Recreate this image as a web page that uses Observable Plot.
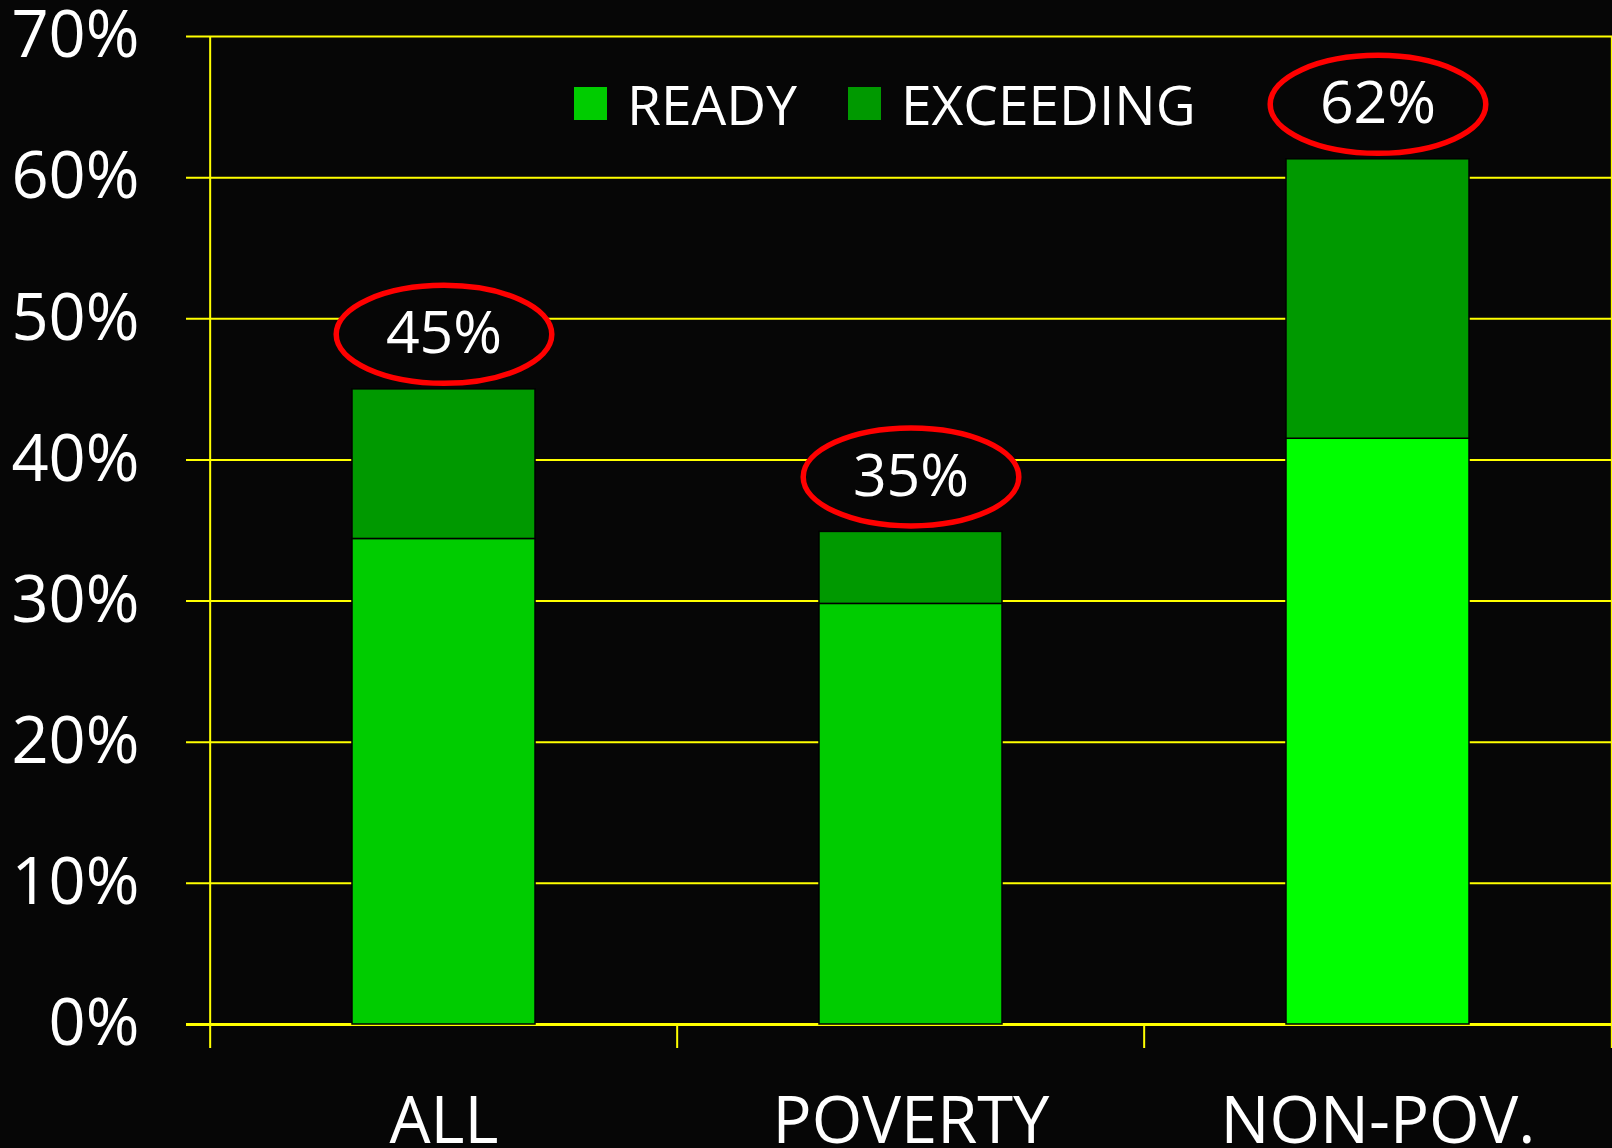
<!DOCTYPE html>
<html>
<head>
<meta charset="utf-8">
<script src="https://cdn.jsdelivr.net/npm/d3@7"></script>
<script src="https://cdn.jsdelivr.net/npm/@observablehq/plot@0.6"></script>
<style>
  html, body { margin: 0; padding: 0; background: #060606; }
  #wrap { position: relative; width: 1612px; height: 1148px; overflow: hidden; font-family: "Open Sans", sans-serif; }
  .leg { position: absolute; display: flex; align-items: center; color: #fff; font-size: 55px; line-height: 1; }
  .sw { width: 33px; height: 33px; margin-right: 20px; }
</style>
</head>
<body>
<div id="wrap"></div>
<script>
// ---- data ----
const categories = ["ALL", "POVERTY", "NON-POV."];
const ready = [34.4, 29.8, 41.5];
const exceeding = [10.6, 5.1, 19.8];
const totalLabels = ["45%", "35%", "62%"];
const readyColors = ["#00cc00", "#00cc00", "#00ff00"];
const exceedingColor = "#009900";
const seriesNames = ["READY", "EXCEEDING"];
const legendColors = ["#00cc00", "#009900"];
const yTicks = [0, 10, 20, 30, 40, 50, 60, 70];

// ---- layout ----
const W = 1612, H = 1148, ML = 209, MR = 0, MT = 36, MB = 124;
const bw = (W - ML - MR) / categories.length;
const BG = "#060606";
const YEL = "#ffff00";
const FONT = "Open Sans, sans-serif";

const rows = [];
categories.forEach((c, i) => {
  rows.push({cat: c, series: seriesNames[0], value: ready[i], fill: readyColors[i]});
  rows.push({cat: c, series: seriesNames[1], value: exceeding[i], fill: exceedingColor});
});
const totals = categories.map((c, i) => ({cat: c, total: ready[i] + exceeding[i], label: totalLabels[i]}));

const ellipse = {
  draw(ctx, size) {
    const r = Math.sqrt(size / Math.PI);
    const rx = r * 2.2, ry = r, k = 0.5522847;
    ctx.moveTo(rx, 0);
    ctx.bezierCurveTo(rx, ry * k, rx * k, ry, 0, ry);
    ctx.bezierCurveTo(-rx * k, ry, -rx, ry * k, -rx, 0);
    ctx.bezierCurveTo(-rx, -ry * k, -rx * k, -ry, 0, -ry);
    ctx.bezierCurveTo(rx * k, -ry, rx, -ry * k, rx, 0);
    ctx.closePath();
  }
};

const yMax = d3.max(yTicks);

const chart = Plot.plot({
  width: W, height: H,
  marginLeft: ML, marginRight: MR, marginTop: MT, marginBottom: MB,
  style: {background: BG, color: "#ffffff", fontFamily: FONT, overflow: "visible"},
  x: {type: "band", domain: categories, padding: 0},
  y: {domain: [0, yMax]},
  color: {type: "identity"},
  marks: [
    Plot.ruleY(yTicks.filter(t => t > 0), {stroke: YEL, strokeWidth: 2, insetLeft: -23}),
    Plot.ruleY([0], {stroke: YEL, strokeWidth: 3, insetLeft: -23}),
    Plot.ruleX([categories[0]], {dx: -bw / 2, y1: yMax, y2: 0, insetBottom: -24, stroke: YEL, strokeWidth: 2}),
    Plot.ruleX(categories.slice(1), {dx: -bw / 2, y1: 0, y2: 0, insetBottom: -24, stroke: YEL, strokeWidth: 2}),
    Plot.ruleX([categories[categories.length - 1]], {dx: bw / 2, y1: yMax, y2: 0, insetBottom: -24, stroke: YEL, strokeWidth: 2}),
    Plot.barY(rows, {x: "cat", y: "value", fill: "fill", stroke: "#000", strokeWidth: 1.5, insetLeft: 142, insetRight: 142}),
    Plot.dot(totals, {x: "cat", y: "total", dy: -55, r: 49, symbol: ellipse, stroke: "#ff0000", strokeWidth: 5.5, fill: BG}),
    Plot.text(totals, {x: "cat", y: "total", dy: -55, text: "label", fill: "#ffffff", fontSize: 59, fontFamily: FONT}),
    Plot.axisY({ticks: yTicks, tickFormat: d => d + "%", tickSize: 0, tickPadding: 70, fontSize: 65, label: null, fill: "#ffffff"}),
    Plot.axisX({tickSize: 0, tickPadding: 72, fontSize: 65, label: null, fill: "#ffffff"})
  ]
});

const wrap = document.getElementById("wrap");
wrap.appendChild(chart);

// legend overlay (inside plot area, top)
const legendPos = [574, 848];
seriesNames.forEach((name, i) => {
  const item = document.createElement("div");
  item.className = "leg";
  item.style.left = legendPos[i] + "px";
  item.style.top = "70px";
  item.style.height = "66px";
  const sw = document.createElement("div");
  sw.className = "sw";
  sw.style.background = legendColors[i];
  const tx = document.createElement("span");
  tx.textContent = name;
  item.appendChild(sw);
  item.appendChild(tx);
  wrap.appendChild(item);
});
</script>
</body>
</html>
